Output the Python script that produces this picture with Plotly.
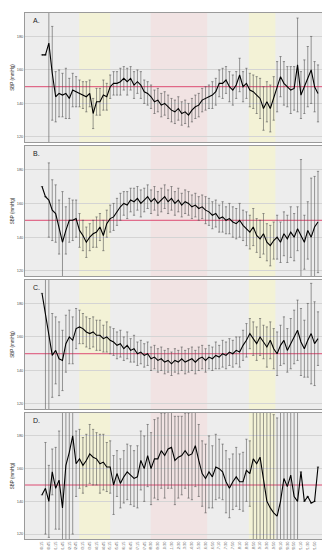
import plotly.graph_objects as go
from plotly.subplots import make_subplots

# time of measurement (category axis), every other one is labelled
time_labels = [
    "00:15", "00:30", "00:45", "01:00", "01:15", "01:30", "01:45", "02:00",
    "02:15", "02:30", "02:45", "03:00", "03:15", "03:30", "03:45", "04:00",
    "04:15", "04:30", "04:45", "05:00", "05:15", "05:30", "05:45", "06:00",
    "06:15", "06:30", "06:45", "07:00", "07:15", "07:30", "07:45", "08:00",
    "08:30", "09:00", "09:30", "10:00", "10:30", "11:00", "11:30", "12:00",
    "12:30", "13:00", "13:30", "14:00", "14:30", "15:00", "15:30", "16:00",
    "16:30", "16:40", "16:50", "17:00", "17:10", "17:20", "17:30", "17:40",
    "17:50", "18:00", "18:10", "18:20", "18:30", "18:40", "18:50", "19:00",
    "19:10", "19:20", "19:30", "19:40", "19:50", "20:00", "20:10", "20:20",
    "20:30", "20:40", "20:50", "21:00", "21:10", "21:20", "21:30", "21:40",
    "21:50", "22:00",
]

panel_names = ["A.", "B.", "C.", "D."]

sbp_a = [169, 169, 176, 158, 144, 146, 145, 146, 143, 148,
         147, 146, 145, 144, 146, 134, 141, 141, 145, 144,
         150, 152, 152, 153, 155, 153, 155, 151, 153, 151,
         147, 146, 144, 141, 142, 139, 140, 138, 136, 135,
         137, 134, 135, 133, 136, 138, 139, 142, 143, 144,
         145, 147, 152, 152, 154, 150, 148, 151, 157, 150,
         152, 148, 147, 145, 143, 137, 141, 137, 143, 150,
         156, 152, 150, 148, 149, 163, 145, 150, 156, 160,
         150, 146]
err_a = [None, None, 60, 28, 15, 14, 13, 15, 12, 10,
         9, 8, 8, 9, 8, 9, 8, 8, 9, 8,
         7, 7, 7, 8, 7, 8, 7, 8, 7, 8,
         7, 7, 7, 7, 7, 7, 7, 7, 7, 7,
         7, 7, 7, 7, 7, 7, 7, 7, 7, 7,
         8, 8, 8, 9, 8, 9, 9, 8, 10, 9,
         9, 10, 10, 11, 12, 13, 12, 14, 13, 15,
         12, 13, 12, 14, 13, 28, 14, 16, 18, 20,
         15, 17]

sbp_b = [170, 164, 162, 156, 154, 146, 137, 144, 150, 150,
         151, 144, 141, 137, 140, 142, 143, 146, 141, 148,
         151, 152, 155, 158, 160, 159, 162, 161, 163, 160,
         162, 164, 161, 163, 160, 162, 164, 161, 163, 160,
         162, 159, 161, 160, 158, 159, 157, 158, 156, 155,
         153, 154, 151, 152, 150, 151, 149, 148, 150, 147,
         145, 143, 146, 141, 139, 142, 137, 135, 138, 140,
         137, 142, 139, 143, 140, 145, 141, 137, 144, 140,
         146, 149]
err_b = [None, None, 22, 18, 17, 16, 30, 14, 13, 12,
         11, 10, 9, 9, 8, 8, 9, 8, 9, 8,
         8, 8, 8, 8, 7, 8, 7, 8, 7, 8,
         7, 7, 7, 7, 7, 7, 7, 7, 7, 7,
         7, 7, 7, 7, 7, 7, 7, 7, 8, 8,
         8, 8, 8, 9, 8, 9, 9, 9, 10, 9,
         10, 10, 11, 10, 11, 12, 11, 12, 11, 13,
         12, 13, 14, 15, 14, 13, 45, 16, 17, 35,
         30, 30]

sbp_c = [186, 173, 160, 149, 152, 147, 146, 156, 160, 158,
         165, 166, 165, 163, 162, 163, 161, 161, 159, 160,
         158, 157, 155, 156, 153, 155, 152, 153, 150, 151,
         149, 150, 147, 148, 146, 147, 145, 146, 144, 146,
         145, 147, 145, 146, 147, 145, 147, 148, 146, 148,
         147, 149, 148, 150, 149, 151, 150, 152, 151, 155,
         158, 162, 159, 156, 160, 157, 154, 158, 153, 150,
         155, 158, 152, 156, 160, 164, 157, 153, 158, 162,
         156, 159]
err_c = [None, 60, 60, 25, 20, 22, 18, 17, 16, 14,
         12, 10, 9, 9, 9, 9, 9, 9, 8, 9,
         8, 8, 8, 8, 7, 8, 7, 8, 7, 7,
         7, 7, 7, 7, 7, 7, 7, 7, 7, 7,
         7, 7, 7, 7, 7, 7, 7, 7, 7, 7,
         7, 8, 7, 8, 8, 8, 8, 8, 9, 9,
         10, 9, 10, 10, 11, 10, 12, 11, 12, 13,
         12, 14, 13, 15, 16, 18, 20, 17, 22, 30,
         25, 16]

sbp_d = [144, 148, 140, 158, 148, 153, 136, 162, 170, 180,
         163, 166, 162, 165, 169, 167, 166, 163, 164, 161,
         161, 150, 157, 151, 155, 158, 156, 154, 155, 165,
         160, 168, 160, 166, 166, 171, 168, 172, 173, 165,
         167, 168, 171, 168, 169, 174, 165, 157, 154, 158,
         155, 161, 160, 158, 152, 148, 152, 155, 152, 152,
         159, 157, 166, 163, 167, 152, 140, 136, 133, 131,
         140, 154, 149, 156, 143, 140, 158, 140, 143, 139,
         140, 161]
err_d = [None, 28, 22, 14, 25, 30, 60, 60, 60, 60,
         20, 18, 17, 16, 18, 17, 16, 18, 17, 15,
         16, 18, 14, 15, 16, 17, 18, 17, 19, 18,
         20, 19, 22, 24, 25, 23, 26, 24, 25, 27,
         25, 24, 23, 26, 28, 25, 22, 20, 21, 22,
         19, 20, 18, 17, 19, 18, 17, 18, 17, 18,
         19, 20, 60, 60, 60, 45, 60, 60, 60, 60,
         60, 60, 60, 60, 60, 60, None, None, None, None,
         None, None]

ref_sbp = 150
# shaded periods, as category index ranges
yellow_periods = [(10.9, 20.0), (60.7, 68.5)]
pink_periods = [(31.9, 48.5)]

series = [(sbp_a, err_a), (sbp_b, err_b), (sbp_c, err_c), (sbp_d, err_d)]

fig = make_subplots(rows=4, cols=1, shared_xaxes=True, vertical_spacing=0.008)

for i, (vals, errs) in enumerate(series):
    row = i + 1
    fig.add_trace(go.Scatter(
        x=time_labels, y=vals, mode="lines",
        line=dict(color="black", width=1.1),
        error_y=dict(type="data", array=errs, color="#555555",
                     thickness=0.6, width=1.1),
        showlegend=False,
    ), row=row, col=1)
    for x0, x1 in yellow_periods:
        fig.add_vrect(x0=x0, x1=x1, fillcolor="#f3f2d6", line_width=0,
                      layer="below", row=row, col=1)
    for x0, x1 in pink_periods:
        fig.add_vrect(x0=x0, x1=x1, fillcolor="#f1e3e3", line_width=0,
                      layer="below", row=row, col=1)
    # reference line sits under the data, gridlines never touch 150
    fig.add_hline(y=ref_sbp, line=dict(color="#dd4b72", width=1),
                  layer="below", row=row, col=1)
    fig.add_annotation(text=panel_names[i], x=0.02, y=0.985,
                       xref="x domain" if row == 1 else "x%d domain" % row,
                       yref="y domain" if row == 1 else "y%d domain" % row,
                       xanchor="left", yanchor="top", showarrow=False,
                       font=dict(size=7, color="#222222", family="Liberation Sans"))

domains = [(0.7548, 1.0), (0.5, 0.7471), (0.2471, 0.4924), (0.0, 0.2395)]
for i, dom in enumerate(domains):
    fig.update_yaxes(domain=list(dom), range=[117, 194],
                     tickvals=[120, 140, 160, 180],
                     ticks="", showgrid=True, gridcolor="#d4d4d4", gridwidth=0.6,
                     tickfont=dict(size=4, color="#555555"),
                     title=dict(text="SBP (mmHg)", standoff=2,
                                font=dict(size=4.5, color="#333333")),
                     showline=True, linecolor="#9a9a9a", linewidth=0.7, mirror=True,
                     zeroline=False, row=i + 1, col=1)
    fig.update_xaxes(range=[-5, 85.7], showgrid=False, ticks="",
                     showline=True, linecolor="#9a9a9a", linewidth=0.7, mirror=True,
                     row=i + 1, col=1)

fig.update_xaxes(tickvals=time_labels[::2], tickangle=-90,
                 tickfont=dict(size=4, color="#666666"),
                 showticklabels=True, automargin=False, row=4, col=1)

fig.update_layout(
    width=330, height=550,
    margin=dict(l=17, r=4, t=5, b=19, autoexpand=False),
    plot_bgcolor="#ededed",
    paper_bgcolor="white",
    font=dict(family="Liberation Sans"),
)

fig.write_html("out.html")
